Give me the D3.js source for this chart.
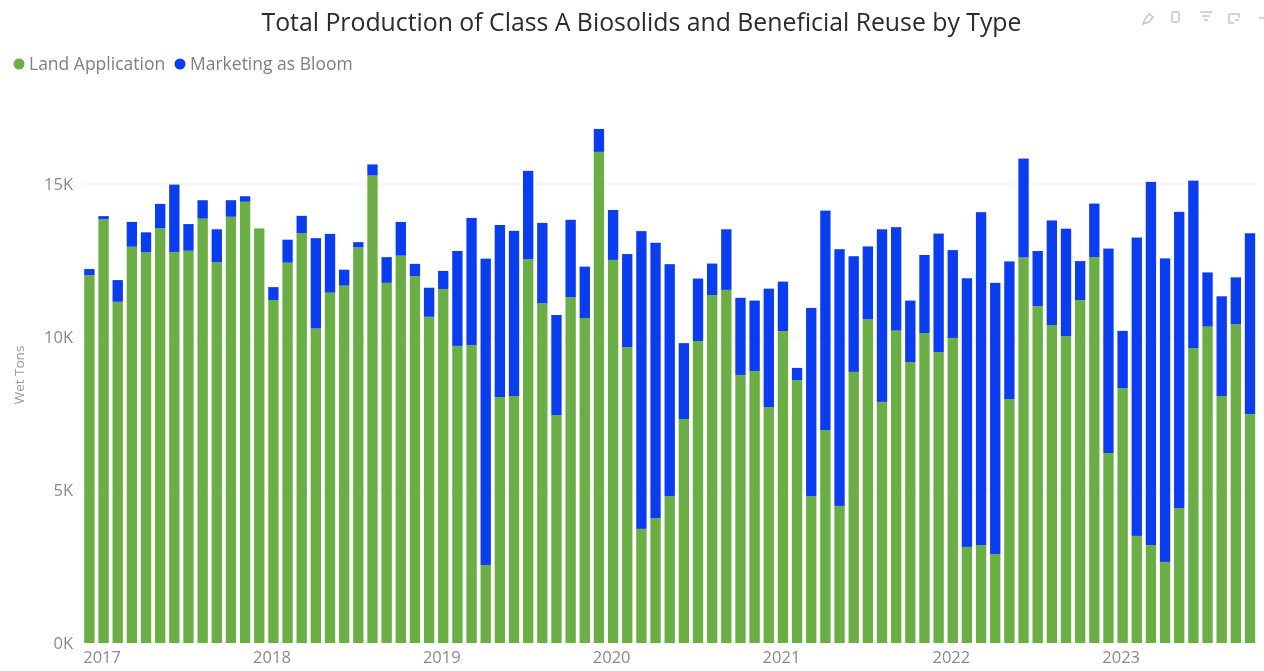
<!DOCTYPE html>
<html>
<head>
<meta charset="utf-8">
<style>
html,body{margin:0;padding:0;background:#fff;overflow:hidden}
svg{display:block;filter:blur(0.45px)}
text{font-family:"Open Sans","Noto Sans",sans-serif}
.axis path,.axis line{display:none}
</style>
<script src="https://cdn.jsdelivr.net/npm/d3@7/dist/d3.min.js"></script>
</head>
<body>
<svg id="c" width="1264" height="671"></svg>
<script>
const titleText = "Total Production of Class A Biosolids and Beneficial Reuse by Type";
const seriesNames = ["Land Application", "Marketing as Bloom"];
const seriesColors = ["#6BAE45", "#0A3CF0"];
const yearLabels = [2017, 2018, 2019, 2020, 2021, 2022, 2023];
const yTicks = [0, 5000, 10000, 15000];
const yAxisTitle = "Wet Tons";
const firstYear = 2017;

const landApplication = [
12020,13850,11150,12950,12770,13550,12780,12820,13870,12440,13930,14420,
13550,11210,12430,13390,10280,11450,11680,12930,15280,11770,12660,11990,
10660,11570,9710,9740,2550,8040,8070,12540,11100,7450,11300,10620,
16050,12520,9670,3730,4080,4800,7320,9870,11370,11540,8760,8890,
7710,10190,8590,4800,6960,4480,8860,10580,7880,10210,9180,10130,
9510,9970,3140,3200,2910,7970,12600,11010,10390,10030,11210,12610,
6210,8330,3500,3200,2650,4410,9640,10340,8070,10420,7480];

const marketingAsBloom = [
200,100,710,810,650,800,2200,870,600,1080,540,180,
0,420,750,570,2950,1920,520,170,360,840,1100,400,
950,590,3100,4150,10010,5620,5400,2890,2630,3270,2530,1680,
750,1630,3040,9730,9000,7580,2480,2040,1030,1980,2520,2300,
3870,1620,400,6150,7170,8390,3780,2380,5640,3380,2010,2550,
3870,2870,8780,10880,8860,4500,3230,1800,3420,3510,1270,1750,
6680,1870,9750,11870,9920,9680,5470,1770,3260,1530,5910];

const months = landApplication.map((_, i) => i);
const rows = months.map(i => ({
  month: i,
  land: landApplication[i],
  bloom: marketingAsBloom[i]
}));

const svg = d3.select("#c");
const x = d3.scaleBand().domain(months).range([82.4, 1257]).paddingInner(0.27).paddingOuter(0.13);
const y = d3.scaleLinear().domain([0, 15000]).range([643, 184]);

// gridlines
svg.append("g").selectAll("line").data(yTicks.filter(d => d > 0)).join("line")
  .attr("x1", 82).attr("x2", 1256)
  .attr("y1", d => y(d)).attr("y2", d => y(d))
  .attr("stroke", d => d === 15000 ? "#ececec" : "#f1f1f1").attr("stroke-width", 1);

// stacked bars
const stack = d3.stack().keys(["land", "bloom"])(rows);
svg.append("g").selectAll("g").data(stack).join("g")
  .attr("fill", (d, i) => seriesColors[i])
  .selectAll("rect").data(d => d).join("rect")
  .attr("x", d => x(d.data.month))
  .attr("width", x.bandwidth())
  .attr("y", d => y(d[1]))
  .attr("height", d => y(d[0]) - y(d[1]));

// y axis
const yAxis = d3.axisLeft(y).tickValues(yTicks).tickFormat(d => (d / 1000) + "K").tickSize(0).tickPadding(0);
svg.append("g").attr("class", "axis").attr("transform", "translate(73,0)").call(yAxis)
  .call(g => g.selectAll("text").attr("fill", "#8a8a8a").style("font-size", "16.5px").attr("dy", "0.32em"));

// x axis: one tick per January
const janIdx = yearLabels.map(yr => (yr - firstYear) * 12);
const xAxis = d3.axisBottom(x).tickValues(janIdx).tickFormat(i => firstYear + i / 12).tickSize(0).tickPadding(0);
svg.append("g").attr("class", "axis").attr("transform", "translate(0,651)").call(xAxis)
  .call(g => g.selectAll("text").attr("fill", "#8a8a8a").style("font-size", "16.5px")
    .attr("text-anchor", "start").attr("x", -x.bandwidth() / 2 - 1).attr("dy", "0.71em"));

// y title
svg.append("text").text(yAxisTitle)
  .attr("transform", "translate(24,375) rotate(-90)")
  .attr("text-anchor", "middle").attr("fill", "#9a9a9a").style("font-size", "13.5px");

// title
svg.append("text").text(titleText).attr("x", 641.5).attr("y", 31)
  .attr("text-anchor", "middle").attr("fill", "#2b2b2b").style("font-size", "24.8px");

// legend
const legendX = [19, 180], legendTextX = [29, 190];
seriesNames.forEach((n, i) => {
  svg.append("circle").attr("cx", legendX[i]).attr("cy", 64).attr("r", 5.5).attr("fill", seriesColors[i]);
  svg.append("text").text(n).attr("x", legendTextX[i]).attr("y", 70)
    .attr("fill", "#7f7f7f").style("font-size", "17.5px");
});

// visual header icons
const ic = svg.append("g").attr("fill", "none").attr("stroke", "#c4c4c4").attr("stroke-width", 1.5);
ic.append("path").attr("d", "M1143 24 l2 -5 l4 -5 l4 3 l-4 5 z");
ic.append("rect").attr("x", 1172).attr("y", 12).attr("width", 7).attr("height", 10).attr("rx", 1.5);
ic.append("path").attr("d", "M1200 12 h12 M1202 16 h8 M1204 20 h4");
ic.append("path").attr("d", "M1229 14 h10 v4 M1229 14 v9 h5 M1235 20 h4");
ic.append("path").attr("d", "M1259 18 h5");
</script>
</body>
</html>
